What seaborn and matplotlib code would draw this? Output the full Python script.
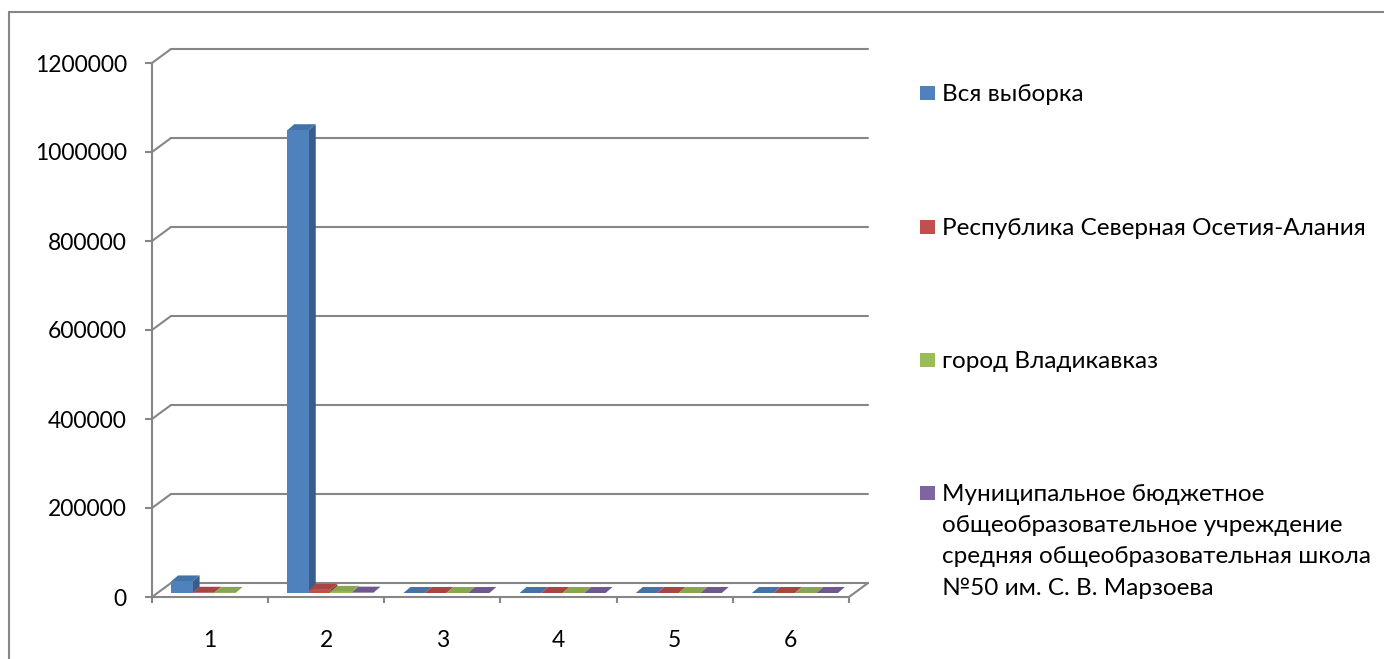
import matplotlib
matplotlib.use("Agg")
import matplotlib.pyplot as plt
import seaborn as sns
import pandas as pd
import numpy as np
from matplotlib.lines import Line2D
from matplotlib.patches import Polygon, Rectangle
from matplotlib.transforms import IdentityTransform

categories = ["1", "2", "3", "4", "5", "6"]
series_names = [
    "Вся выборка",
    "Республика Северная Осетия-Алания",
    "город Владикавказ",
    "Муниципальное бюджетное\nобщеобразовательное учреждение\nсредняя общеобразовательная школа\n№50 им. С. В. Марзоева",
]
whole_sample = [26000, 1040000, 0, 0, 0, 0]
republic = [500, 7000, 0, 0, 0, 0]
city = [300, 2500, 0, 0, 0, 0]
school = [np.nan, 800, 0, 0, 0, 0]
y_ticks = [0, 200000, 400000, 600000, 800000, 1000000, 1200000]

colors = ["#4F81BD", "#C0504D", "#9BBB59", "#8064A2"]
side_colors = ["#385D8A", "#8C3836", "#71893F", "#5C4776"]
top_colors = ["#4472A8", "#A84542", "#88A64D", "#6F5790"]
grid_col = "#868686"

W, H = 1384, 659
DX, DY = 19, 14      # depth of the back wall, px
BDX, BDY = 7, 6      # depth of a bar, px
SH = 4               # bars sit a bit behind the front plane, px
FONT = ["Lato", "DejaVu Sans"]

rows = []
for name, vals in zip(series_names, [whole_sample, republic, city, school]):
    for c, v in zip(categories, vals):
        if not np.isnan(v):
            rows.append({"cat": c, "value": v, "series": name})
df = pd.DataFrame(rows)

sns.set_theme(style="white")
plt.rcParams["font.family"] = FONT

fig = plt.figure(figsize=(W / 100, H / 100), dpi=100)
ax = fig.add_axes([152 / W, (H - 597) / H, (849 - 152) / W, (597 - 63) / H])

sns.barplot(data=df, x="cat", y="value", hue="series", order=categories,
            hue_order=series_names, palette=colors, saturation=1, width=0.74,
            errorbar=None, ax=ax, legend=False, linewidth=0)

ax.set_xlim(-0.5, 5.5)
ax.set_ylim(0, 1200000)
ax.set_yticks(y_ticks)
ax.set_yticklabels([str(t) for t in y_ticks])
ax.set_xlabel("")
ax.set_ylabel("")
ax.set_xticks(range(6))
ax.set_xticks(np.arange(-0.5, 6, 1), minor=True)
ax.tick_params(axis="x", which="major", length=0, pad=24, labelsize=16.5)
ax.tick_params(axis="x", which="minor", length=4, width=1.5, color=grid_col, direction="out", bottom=True)
ax.tick_params(axis="y", length=5, width=1.5, color=grid_col, pad=13, labelsize=16.5, left=True)
for lab in ax.get_xticklabels() + ax.get_yticklabels():
    lab.set_color("black")
for s in ["top", "right"]:
    ax.spines[s].set_visible(False)
for s in ["left", "bottom"]:
    ax.spines[s].set_color(grid_col)
    ax.spines[s].set_linewidth(1.5)
ax.patch.set_alpha(0)

fig.canvas.draw()
ident = IdentityTransform()


def disp(x, y):
    return ax.transData.transform((x, y))


# back wall gridlines and left wall diagonals
for v in y_ticks:
    x0, y0 = disp(-0.5, v)
    x1, _ = disp(5.5, v)
    fig.add_artist(Line2D([x0 + DX, x1 + DX], [y0 + DY, y0 + DY], transform=ident,
                          color=grid_col, lw=1.5, zorder=0))
    fig.add_artist(Line2D([x0, x0 + DX], [y0, y0 + DY], transform=ident,
                          color=grid_col, lw=1.5, zorder=0))
xr, yr = disp(5.5, 0)
fig.add_artist(Line2D([xr, xr + DX], [yr, yr + DY], transform=ident,
                      color=grid_col, lw=1.5, zorder=0))

# 3D bars: redraw every seaborn bar as front + top + side faces
for k, cont in enumerate(ax.containers):
    for p in cont.patches:
        bx0, by0 = disp(p.get_x(), 0)
        bx1, by1 = disp(p.get_x() + p.get_width(), p.get_height())
        bx0 += SH; bx1 += SH; by0 += SH; by1 += SH
        z = 3 + p.get_x()
        fig.add_artist(Polygon([[bx1, by0], [bx1, by1], [bx1 + BDX, by1 + BDY], [bx1 + BDX, by0 + BDY]],
                               closed=True, transform=ident, facecolor=side_colors[k],
                               edgecolor="none", zorder=z))
        fig.add_artist(Polygon([[bx0, by1], [bx1, by1], [bx1 + BDX, by1 + BDY], [bx0 + BDX, by1 + BDY]],
                               closed=True, transform=ident, facecolor=top_colors[k],
                               edgecolor="none", zorder=z))
        fig.add_artist(Polygon([[bx0, by0], [bx1, by0], [bx1, by1], [bx0, by1]], closed=True,
                               transform=ident, facecolor=colors[k], edgecolor="none",
                               zorder=z + 0.001))
        p.set_visible(False)

# legend drawn by hand, Excel style (marker beside the first line)
legend_y = [93, 227, 360, 493]
for k, (name, y) in enumerate(zip(series_names, legend_y)):
    fig.add_artist(Rectangle((920 / W, 1 - (y + 7) / H), 15 / W, 14 / H,
                             transform=fig.transFigure, facecolor=colors[k], edgecolor="none"))
    fig.text(942 / W, 1 - (y - 9) / H, name, fontsize=17.5, va="top", ha="left",
             linespacing=1.6, family=FONT, color="black")

# chart frame
fig.add_artist(Line2D([9 / W, 1], [1 - 12 / H, 1 - 12 / H], transform=fig.transFigure,
                      color=grid_col, lw=1.5))
fig.add_artist(Line2D([9 / W, 9 / W], [0, 1 - 12 / H], transform=fig.transFigure,
                      color=grid_col, lw=1.5))

fig.savefig("out.png", dpi=100)
